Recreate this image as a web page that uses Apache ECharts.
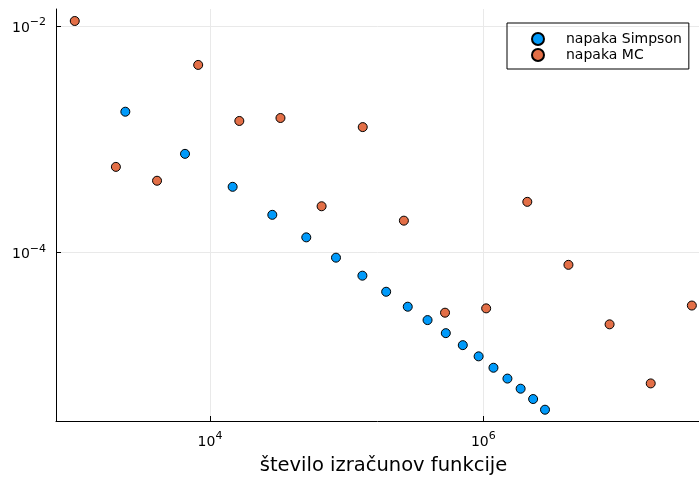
<!DOCTYPE html>
<html>
<head>
<meta charset="utf-8">
<script src="https://cdn.jsdelivr.net/npm/echarts@6/dist/echarts.min.js"></script>
<style>
  html, body { margin: 0; padding: 0; background: #fff; }
  #chart { width: 699px; height: 477px; }
</style>
</head>
<body>
<div id="chart"></div>
<script>
// Number of function evaluations and the resulting integration error.
const simpsonEvals = [2401, 6561, 14641, 28561, 50625, 83521, 130321, 194481, 279841,
  390625, 531441, 707281, 923521, 1185921, 1500625, 1874161, 2313441, 2825761];
const simpsonError = [1.75e-3, 7.43e-4, 3.80e-4, 2.15e-4, 1.36e-4, 9.0e-5, 6.24e-5, 4.50e-5,
  3.32e-5, 2.53e-5, 1.94e-5, 1.52e-5, 1.21e-5, 9.6e-6, 7.7e-6, 6.27e-6, 5.08e-6, 4.09e-6];

const mcEvals = [1024, 2048, 4096, 8192, 16384, 32768, 65536, 131072, 262144, 524288,
  1048576, 2097152, 4194304, 8388608, 16777216, 33554432];
const mcError = [1.107e-2, 5.70e-4, 4.30e-4, 4.53e-3, 1.45e-3, 1.54e-3, 2.56e-4, 1.28e-3,
  1.91e-4, 2.94e-5, 3.21e-5, 2.80e-4, 7.78e-5, 2.32e-5, 6.98e-6, 3.40e-5];

const seriesNames = ['napaka Simpson', 'napaka MC'];
const xTitle = 'število izračunov funkcije';

const FONT = 'DejaVu Sans';

function pairs(xs, ys) {
  return xs.map((x, i) => [x, ys[i]]);
}

// Label powers of ten as 10 with a raised exponent.
function powerLabel(v) {
  const e = Math.round(Math.log10(v));
  const exp = e < 0 ? '\u2212' + (-e) : String(e);
  return '{b|10}{e|' + exp + '}';
}
const powerRich = {
  b: { fontFamily: FONT, fontSize: 14, color: '#000', verticalAlign: 'bottom' },
  e: { fontFamily: FONT, fontSize: 11, color: '#000', verticalAlign: 'bottom', padding: [0, 0, 7, 0] }
};

const chart = echarts.init(document.getElementById('chart'), null, { renderer: 'canvas' });

const markerStyle = (color) => ({ color: color, borderColor: '#000', borderWidth: 1, opacity: 1 });

chart.setOption({
  backgroundColor: '#fff',
  animation: false,
  grid: { left: 56, right: 0, top: 9, bottom: 56, containLabel: false, outerBoundsMode: 'none' },
  legend: {
    left: 507,
    top: 23,
    orient: 'vertical',
    borderColor: '#000',
    borderWidth: 1,
    borderRadius: 0,
    padding: [9, 7, 7, 24],
    itemWidth: 12,
    itemHeight: 12,
    itemGap: 2,
    icon: 'circle',
    textStyle: { fontFamily: FONT, fontSize: 14, color: '#000', padding: [0, 0, 0, 17] },
    data: seriesNames
  },
  xAxis: {
    type: 'log',
    logBase: 100,
    min: Math.pow(10, 2.873),
    max: Math.pow(10, 7.578),
    name: xTitle,
    nameLocation: 'middle',
    nameGap: 35,
    nameTextStyle: { fontFamily: FONT, fontSize: 19.5, color: '#000', padding: [0, 0, 0, 12] },
    axisLine: { show: true, onZero: false, lineStyle: { color: '#000', width: 1 } },
    axisTick: { show: true, inside: true, length: 5, lineStyle: { color: '#000' } },
    axisLabel: {
      formatter: powerLabel, rich: powerRich, margin: 10,
      showMinLabel: false, showMaxLabel: false
    },
    splitLine: {
      show: true, showMinLine: false, showMaxLine: false,
      lineStyle: { color: '#e9e9e9', width: 1 }
    },
    minorTick: { show: false }
  },
  yAxis: {
    type: 'log',
    logBase: 100,
    min: Math.pow(10, -5.488),
    max: Math.pow(10, -1.850),
    axisLine: { show: true, onZero: false, lineStyle: { color: '#000', width: 1 } },
    axisTick: { show: true, inside: true, length: 5, lineStyle: { color: '#000' } },
    axisLabel: {
      formatter: powerLabel, rich: powerRich, margin: 10,
      showMinLabel: false, showMaxLabel: false
    },
    splitLine: {
      show: true, showMinLine: false, showMaxLine: false,
      lineStyle: { color: '#e9e9e9', width: 1 }
    }
  },
  series: [
    {
      name: seriesNames[0],
      type: 'scatter',
      symbol: 'circle',
      symbolSize: 9,
      itemStyle: markerStyle('#009AFA'),
      data: pairs(simpsonEvals, simpsonError)
    },
    {
      name: seriesNames[1],
      type: 'scatter',
      symbol: 'circle',
      symbolSize: 9,
      itemStyle: markerStyle('#E36F47'),
      data: pairs(mcEvals, mcError)
    }
  ]
});
</script>
</body>
</html>
